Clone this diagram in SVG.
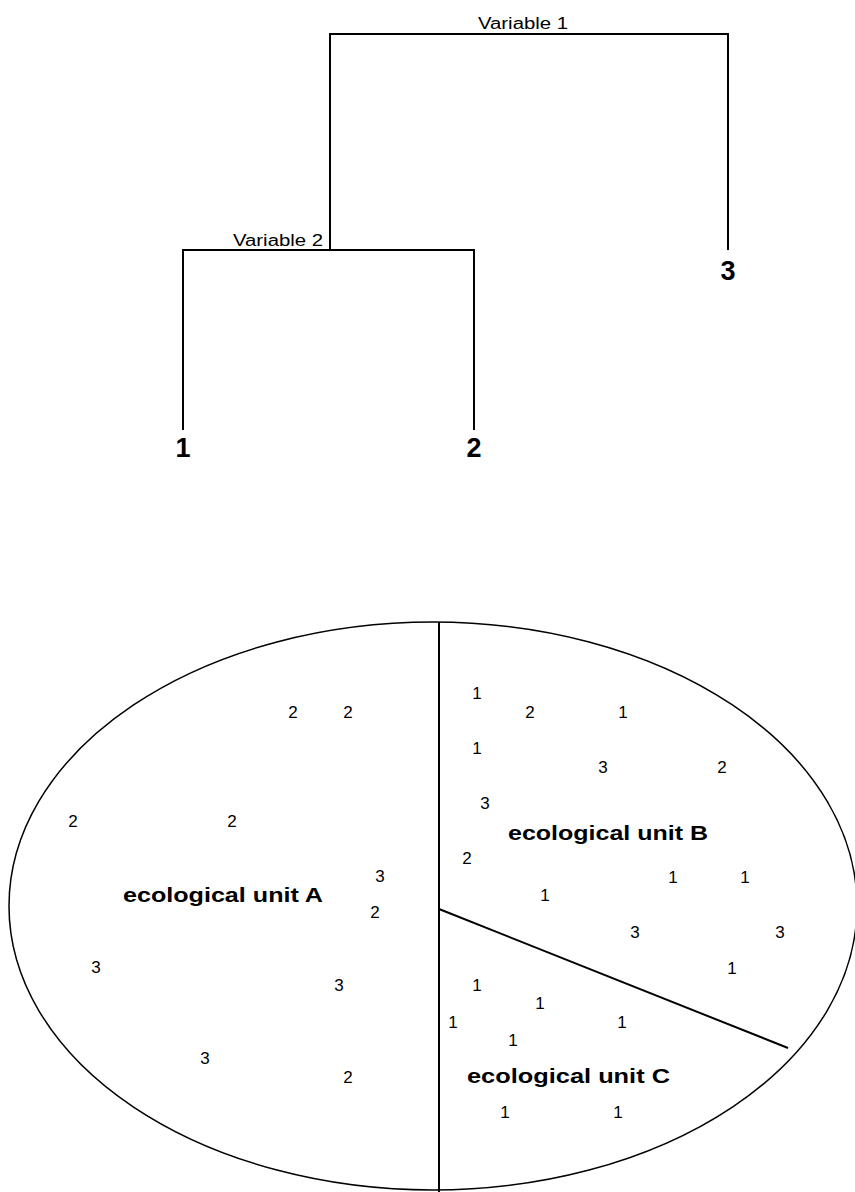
<svg xmlns="http://www.w3.org/2000/svg" width="855" height="1192" viewBox="0 0 855 1192">
<style>
.ln{fill:none;stroke:#000;stroke-width:2}
.thin{fill:none;stroke:#000;stroke-width:1.5}
.lab{font-family:"Liberation Sans",Arial,sans-serif;font-size:16px;fill:#000}
.leaf{font-family:"Liberation Sans",Arial,sans-serif;font-size:27px;font-weight:bold;text-anchor:middle;fill:#000}
.pt{font-family:"Liberation Sans",Arial,sans-serif;font-size:17px;text-anchor:middle;fill:#000}
.unit{font-family:"Liberation Sans",Arial,sans-serif;font-size:21px;font-weight:bold;fill:#000}
</style>
<rect width="855" height="1192" fill="#fff"/>
<g id="connectors">
  <path class="ln" d="M330 250 V34 H728 V250"/>
  <path class="ln" d="M183 430 V250 H474 V430"/>
</g>
<g id="split-variable-1"><text class="lab" x="478" y="29" textLength="90" lengthAdjust="spacingAndGlyphs">Variable 1</text></g>
<g id="split-variable-2"><text class="lab" x="233" y="246" textLength="90" lengthAdjust="spacingAndGlyphs">Variable 2</text></g>
<g id="leaf-1"><text class="leaf" x="183" y="457">1</text></g>
<g id="leaf-2"><text class="leaf" x="474" y="457">2</text></g>
<g id="leaf-3"><text class="leaf" x="728" y="280">3</text></g>
<g id="map">
  <ellipse class="thin" cx="433" cy="906" rx="424" ry="284"/>
  <line class="ln" x1="439" y1="622" x2="439" y2="1192"/>
  <line class="ln" x1="439" y1="909" x2="788" y2="1048"/>
</g>
<g id="unit-A">
  <text class="unit" x="123" y="902" textLength="200" lengthAdjust="spacingAndGlyphs">ecological unit A</text>
  <text class="pt" x="293" y="718">2</text>
  <text class="pt" x="348" y="718">2</text>
  <text class="pt" x="73" y="827">2</text>
  <text class="pt" x="232" y="827">2</text>
  <text class="pt" x="380" y="882">3</text>
  <text class="pt" x="375" y="918">2</text>
  <text class="pt" x="96" y="973">3</text>
  <text class="pt" x="339" y="991">3</text>
  <text class="pt" x="205" y="1064">3</text>
  <text class="pt" x="348" y="1083">2</text>
</g>
<g id="unit-B">
  <text class="unit" x="508" y="840" textLength="200" lengthAdjust="spacingAndGlyphs">ecological unit B</text>
  <text class="pt" x="477" y="699">1</text>
  <text class="pt" x="530" y="718">2</text>
  <text class="pt" x="623" y="718">1</text>
  <text class="pt" x="477" y="754">1</text>
  <text class="pt" x="603" y="773">3</text>
  <text class="pt" x="722" y="773">2</text>
  <text class="pt" x="485" y="809">3</text>
  <text class="pt" x="467" y="864">2</text>
  <text class="pt" x="673" y="883">1</text>
  <text class="pt" x="745" y="883">1</text>
  <text class="pt" x="545" y="901">1</text>
  <text class="pt" x="635" y="938">3</text>
  <text class="pt" x="780" y="938">3</text>
  <text class="pt" x="732" y="974">1</text>
</g>
<g id="unit-C">
  <text class="unit" x="467" y="1083" textLength="203" lengthAdjust="spacingAndGlyphs">ecological unit C</text>
  <text class="pt" x="477" y="991">1</text>
  <text class="pt" x="540" y="1009">1</text>
  <text class="pt" x="453" y="1028">1</text>
  <text class="pt" x="622" y="1028">1</text>
  <text class="pt" x="513" y="1046">1</text>
  <text class="pt" x="505" y="1118">1</text>
  <text class="pt" x="618" y="1118">1</text>
</g>
</svg>
